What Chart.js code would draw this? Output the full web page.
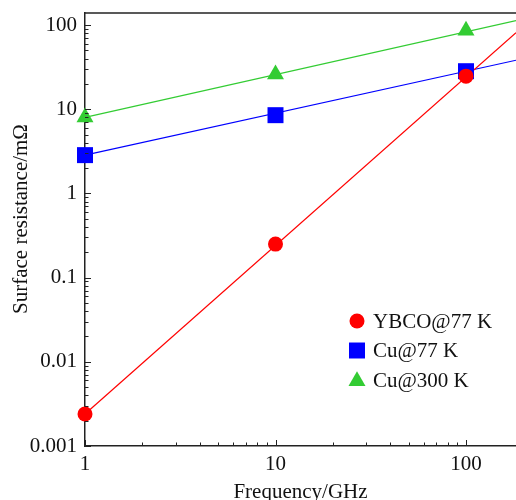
<!DOCTYPE html>
<html>
<head>
<meta charset="utf-8">
<script src="https://cdn.jsdelivr.net/npm/chart.js@4"></script>
<style>
html,body{margin:0;padding:0;background:#fff;overflow:hidden;}
#wrap{width:516px;height:500px;position:relative;overflow:hidden;}
canvas{display:block;}
</style>
</head>
<body>
<div id="wrap"><canvas id="c"></canvas></div>
<script>
const frequencies = [1, 10, 100];
const ybco77 = [0.0024, 0.25, 24.7];
const cu77 = [2.85, 8.5, 28.3];
const cu300 = [8.0, 26, 86];
const fitFreq = [1, 183];
const ybcoFit = [0.0024, 81];
const cu77Fit = [2.85, 38.2];
const cu300Fit = [8.0, 113];
const seriesNames = ['YBCO@77 K', 'Cu@77 K', 'Cu@300 K'];
const xTickLabels = [1, 10, 100];
const yTickLabels = [0.001, 0.01, 0.1, 1, 10, 100];
const xTitle = 'Frequency/GHz';
const yTitle = 'Surface resistance/mΩ';

const RED = '#ff0000', BLUE = '#0000ff', GREEN = '#33cc33';
const FONT = 'Liberation Serif';

function pts(xs, ys){ return xs.map((x,i)=>({x:x, y:ys[i]})); }

const lineDs = (data, color) => ({type:'line', data, borderColor:color, borderWidth:1.2, pointRadius:0, fill:false, showLine:true, isFit:true, order:2, clip:false});
const markDs = (label, data, color, style, r) => ({type:'scatter', label, data, backgroundColor:color, borderColor:color, borderWidth:0, pointStyle:style, pointRadius:r, pointHoverRadius:r, showLine:false, order:1, clip:false});

const datasets = [
  lineDs(pts(fitFreq, ybcoFit), RED),
  lineDs(pts(fitFreq, cu77Fit), BLUE),
  lineDs(pts(fitFreq, cu300Fit), GREEN),
  markDs(seriesNames[0], pts(frequencies, ybco77), RED, 'circle', 7.5),
  markDs(seriesNames[1], pts(frequencies, cu77), BLUE, 'rect', 11.3),
  markDs(seriesNames[2], pts(frequencies, cu300), GREEN, 'triangle', 9.8)
];

const axisPlugin = {
  id:'axisDeco',
  afterDraw(chart){
    const ctx = chart.ctx, a = chart.chartArea;
    const xs = chart.scales.x, ys = chart.scales.y;
    ctx.save();
    ctx.strokeStyle = '#222';
    ctx.lineWidth = 1.5;
    ctx.beginPath(); ctx.moveTo(a.left, a.top); ctx.lineTo(a.right, a.top); ctx.stroke();
    ctx.lineWidth = 1;
    for (let d = 0; d <= 2; d++) {
      for (let m = 1; m <= 9; m++) {
        const v = m * Math.pow(10, d);
        if (v < xs.min || v > xs.max) continue;
        const px = Math.round(xs.getPixelForValue(v)) + 0.5;
        const len = m === 1 ? 6 : 3.5;
        ctx.beginPath(); ctx.moveTo(px, a.bottom); ctx.lineTo(px, a.bottom - len); ctx.stroke();
      }
    }
    for (let d = -3; d <= 2; d++) {
      for (let m = 1; m <= 9; m++) {
        const v = m * Math.pow(10, d);
        if (v < ys.min * 0.999 || v > ys.max) continue;
        const py = Math.round(ys.getPixelForValue(v)) + 0.5;
        const len = m === 1 ? 6 : 3.5;
        ctx.beginPath(); ctx.moveTo(a.left, py); ctx.lineTo(a.left + len, py); ctx.stroke();
      }
    }
    // y title
    ctx.save();
    ctx.font = '21px "' + FONT + '"';
    ctx.fillStyle = '#111';
    ctx.textAlign = 'center';
    ctx.textBaseline = 'middle';
    ctx.translate(21, 219);
    ctx.rotate(-Math.PI / 2);
    ctx.fillText(yTitle, 0, 0);
    ctx.restore();
    // legend
    const marks = chart.data.datasets.filter(d => !d.isFit);
    const lx = 357, ly0 = 321, dy = 29.5;
    ctx.font = '21px "' + FONT + '"';
    ctx.textBaseline = 'middle';
    ctx.textAlign = 'left';
    marks.forEach((d, i) => {
      const y = ly0 + i * dy;
      ctx.fillStyle = d.backgroundColor;
      ctx.strokeStyle = d.borderColor;
      Chart.helpers.drawPoint(ctx, {pointStyle:d.pointStyle, radius:d.pointRadius, borderWidth:0}, lx, y + (d.pointStyle==='triangle'?1:0));
      ctx.fillStyle = '#111';
      ctx.fillText(d.label, 373, y + 1);
    });
    ctx.restore();
  }
};

new Chart(document.getElementById('c'), {
  type:'scatter',
  data:{datasets},
  options:{
    responsive:true,
    maintainAspectRatio:false,
    animation:false,
    events:[],
    layout:{autoPadding:false, padding:{top:13, right:0, left:0, bottom:0}},
    plugins:{legend:{display:false}, tooltip:{enabled:false}},
    scales:{
      x:{
        type:'logarithmic', min:1, max:183,
        grid:{display:false, drawTicks:false},
        border:{display:true, color:'#222', width:1.5},
        afterFit(s){ s.height = 54; s.paddingLeft = 0; s.paddingRight = 0; },
        afterBuildTicks(s){ s.ticks = xTickLabels.map(v => ({value:v})); },
        ticks:{autoSkip:false, maxRotation:0, padding:5.5, color:'#111', font:{family:FONT, size:21},
          callback:(v)=> String(v)},
        title:{display:true, text:xTitle, color:'#111', font:{family:FONT, size:21, lineHeight:1}, padding:{top:0, bottom:-2.5}}
      },
      y:{
        type:'logarithmic', min:0.001, max:139,
        grid:{display:false, drawTicks:false},
        border:{display:true, color:'#222', width:1.5},
        afterFit(s){ s.width = 85; s.paddingTop = 0; s.paddingBottom = 0; },
        afterBuildTicks(s){ s.ticks = yTickLabels.map(v => ({value:v})); },
        ticks:{autoSkip:false, padding:8, color:'#111', font:{family:FONT, size:21},
          callback:(v)=> String(v)},
        title:{display:false}
      }
    }
  },
  plugins:[axisPlugin]
});
</script>
</body>
</html>
